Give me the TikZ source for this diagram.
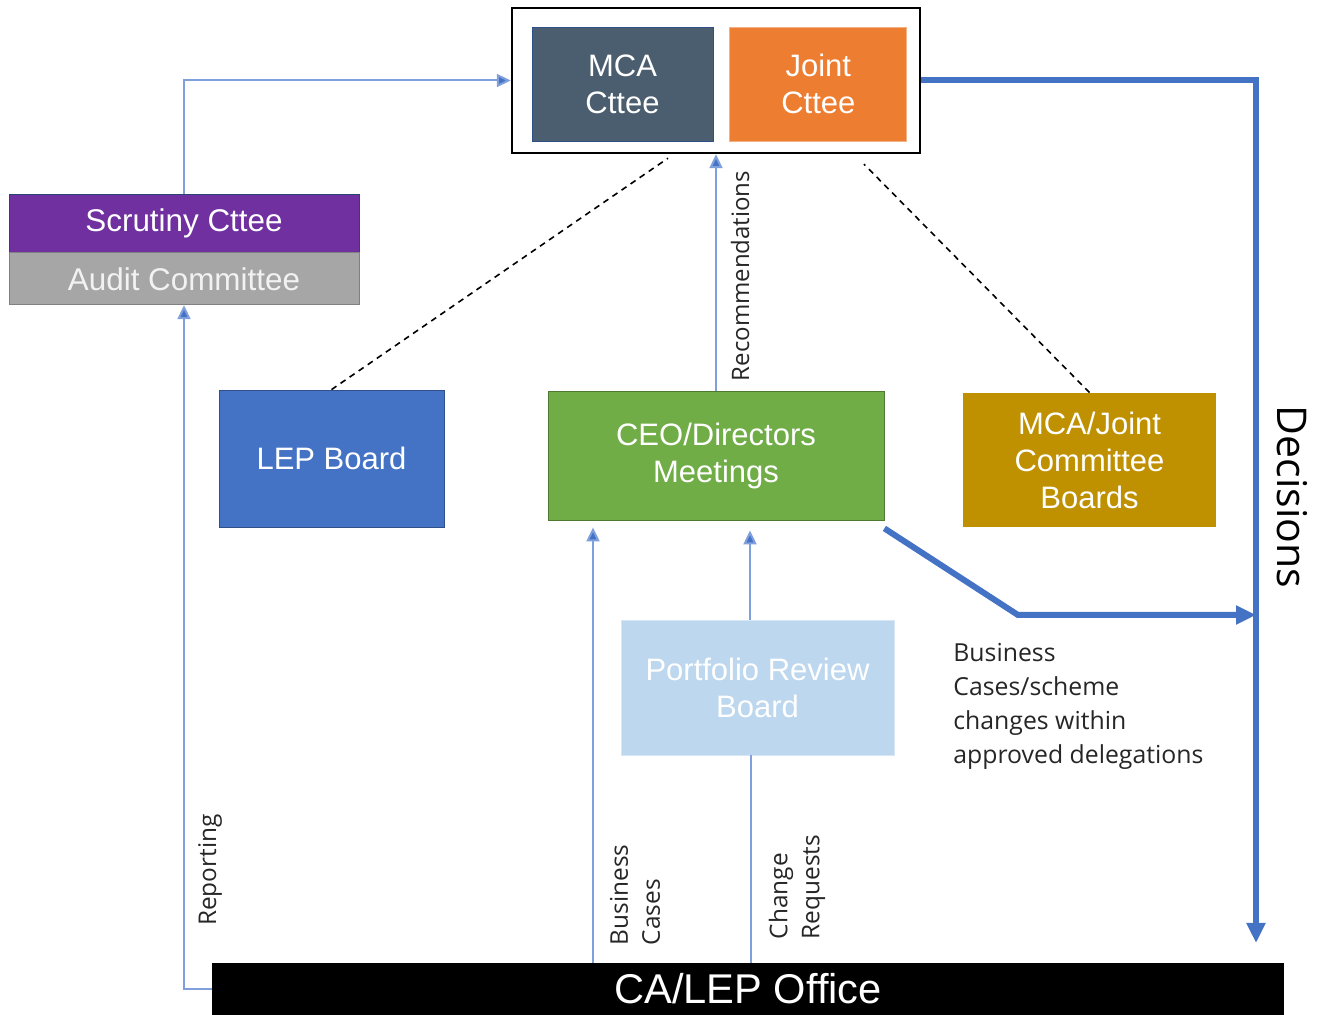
\documentclass[tikz,border=0pt]{standalone}
\usepackage{fontspec}
\setmainfont{Liberation Sans}
\newfontfamily\labelfont{Open Sans}
\usetikzlibrary{calc}
\usetikzlibrary{shapes,arrows.meta,positioning}
\definecolor{mcagrey}{RGB}{75,94,111}
\definecolor{jointorange}{RGB}{237,125,49}
\definecolor{scrutpurple}{RGB}{112,48,160}
\definecolor{auditgrey}{RGB}{166,166,166}
\definecolor{lepblue}{RGB}{68,114,196}
\definecolor{ceogreen}{RGB}{112,173,71}
\definecolor{boardgold}{RGB}{191,144,0}
\definecolor{prblue}{RGB}{189,215,238}
\definecolor{flowblue}{RGB}{128,160,220}
\definecolor{labelgrey}{RGB}{38,38,38}
\tikzset{
  boxstyle/.style={rectangle, text=white, align=center, inner sep=0pt,
    font=\fontsize{15.5}{18.5}\selectfont},
  thinflow/.style={draw=flowblue, line width=1pt, -{Triangle[length=7pt,width=6.5pt,fill=lepblue]}},
  thinline/.style={draw=flowblue, line width=1pt},
  thickflow/.style={draw=lepblue, line width=3pt, -{Triangle[length=10pt,width=9pt]}},
  linkstyle/.style={draw=black, line width=0.8pt, dash pattern=on 3pt off 2.5pt},
  flowlabel/.style={text=labelgrey, font=\labelfont\fontsize{12.2}{16}\selectfont, inner sep=0pt}
}

\begin{document}
\begin{tikzpicture}[x=0.5pt, y=-0.5pt]
    \useasboundingbox (0,0) rectangle (1324,1015);

    % top level
    \node(council)[rectangle, draw=black, line width=1.2pt, minimum width=204pt, minimum height=72.5pt] at (716,80.5) {};
    \node(mca)[boxstyle, fill=mcagrey, draw=lepblue!70!black, minimum width=90.5pt, minimum height=57pt] at (622.5,84) {MCA\\Cttee};
    \node(joint)[boxstyle, fill=jointorange, draw=jointorange!60, minimum width=88.5pt, minimum height=57pt, right = 8pt of mca]{Joint\\Cttee};

    % scrutiny / audit
    \node(scrutiny)[boxstyle, fill=scrutpurple, draw=lepblue!60!black, minimum width=175pt, minimum height=29pt, font=\fontsize{15.7}{17}\selectfont] at (184,223) {Scrutiny Cttee};
    \node(audit)[boxstyle, fill=auditgrey, draw=black!50, text=white!95!black, minimum width=175pt, minimum height=26pt, font=\fontsize{15.7}{17}\selectfont, below = 0pt of scrutiny]{Audit Committee};

    % middle row
    \node(lep)[boxstyle, fill=lepblue, draw=lepblue!70!black, minimum width=112.5pt, minimum height=68.5pt] at (331.5,458.5) {LEP Board};
    \node(ceo)[boxstyle, fill=ceogreen, draw=ceogreen!70!black, minimum width=168pt, minimum height=64.5pt] at (716,455.5) {CEO/Directors\\Meetings};
    \node(boards)[boxstyle, fill=boardgold, minimum width=126.5pt, minimum height=67pt] at (1089.5,460) {MCA/Joint\\Committee\\Boards};

    % lower part
    \node(portfolio)[boxstyle, fill=prblue, draw=prblue!60, minimum width=136.5pt, minimum height=67.5pt] at (757.5,687.5) {Portfolio Review\\Board};
    \node(office)[boxstyle, fill=black, minimum width=536pt, minimum height=26pt, font=\fontsize{20.8}{22}\selectfont] at (748,989) {CA/LEP Office};

    % helper coordinates
    \coordinate(bcx) at (593,0);
    \coordinate(crx) at (751,0);
    \coordinate(decend) at (1256,943);
    \coordinate(bend) at (1018,615);

    % connectors
    \draw[thinflow] (office.west) -| (audit.south);
    \draw[thinflow] (scrutiny.north) |- (council.west);
    \draw[thinflow] (ceo.north) -- (council.south);
    \draw[linkstyle] (lep.north) -- ($(council.south)+(-48,4)$);
    \draw[linkstyle] (boards.north) -- ($(council.south)+(148,10)$);
    \draw[thinflow, shorten >=3.5pt] (bcx |- office.north) -- (bcx |- ceo.south);
    \draw[thinflow, shorten >=5pt] ($(crx |- portfolio.north)+(-1,0)$) -- ($(crx |- ceo.south)+(-1,0)$);
    \draw[thinline] (crx |- office.north) -- (crx |- portfolio.south);
    \draw[thickflow] (council.east) -| (decend);
    \draw[thickflow] ($(ceo.south east)+(0,8)$) -- (bend) -- (bend -| decend);

    % labels
    \node(replabel)[flowlabel, rotate=90] at (210,870) {Reporting};
    \node(reclabel)[flowlabel, rotate=90, font=\labelfont\fontsize{12}{14}\selectfont] at (740,276) {Recommendations};
    \node(bclabel)[flowlabel, rotate=90, align=left] at (635,895) {Business\\Cases};
    \node(crlabel)[flowlabel, rotate=90, align=left] at (797,887) {Change\\Requests};
    \node(declabel)[flowlabel, rotate=-90, text=black, font=\labelfont\fontsize{20.5}{24}\selectfont] at (1292,497) {Decisions};
    \node(delegation)[flowlabel, align=left, anchor=north west, font=\labelfont\fontsize{12.4}{17}\selectfont] at (953,643) {Business\\Cases/scheme\\changes within\\approved delegations};
\end{tikzpicture}
\end{document}
